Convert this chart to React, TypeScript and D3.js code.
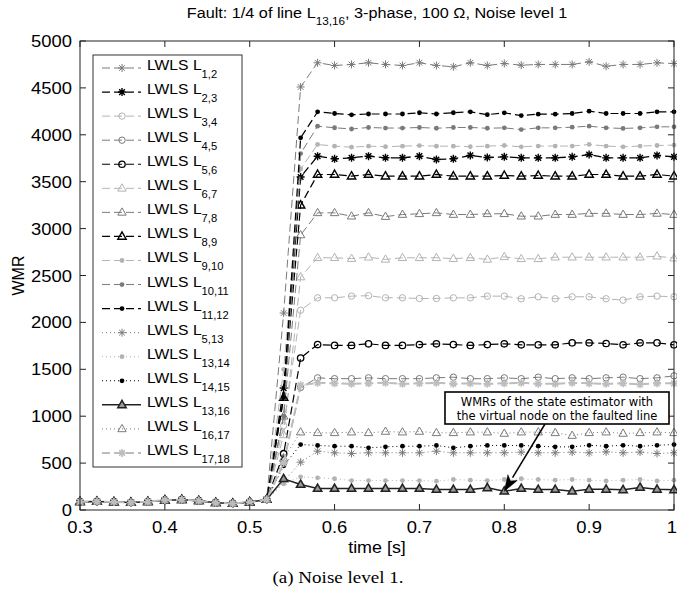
import React from "react";
import * as d3 from "d3";

const times = [0.3, 0.32, 0.34, 0.36, 0.38, 0.4, 0.42, 0.44, 0.46, 0.48, 0.5, 0.52, 0.54, 0.56, 0.58, 0.6, 0.62, 0.64, 0.66, 0.68, 0.7, 0.72, 0.74, 0.76, 0.78, 0.8, 0.82, 0.84, 0.86, 0.88, 0.9, 0.92, 0.94, 0.96, 0.98, 1.0];
const preFault = [88, 90, 86, 80, 88, 105, 110, 98, 78, 70, 84, 112];

const L1_2 = [2100, 4510, 4768, 4739, 4750, 4768, 4750, 4739, 4768, 4739, 4725, 4768, 4739, 4760, 4742, 4750, 4750, 4750, 4778, 4731, 4750, 4750, 4767, 4760];
const L2_3 = [1300, 3550, 3772, 3744, 3755, 3772, 3755, 3755, 3772, 3737, 3744, 3780, 3758, 3765, 3754, 3754, 3754, 3765, 3790, 3754, 3754, 3754, 3780, 3765];
const L3_4 = [900, 2130, 2262, 2262, 2280, 2285, 2262, 2262, 2255, 2255, 2262, 2262, 2280, 2280, 2252, 2273, 2252, 2273, 2273, 2252, 2237, 2273, 2280, 2273];
const L4_5 = [500, 1306, 1409, 1400, 1400, 1409, 1400, 1400, 1400, 1409, 1416, 1400, 1400, 1409, 1400, 1416, 1400, 1409, 1400, 1409, 1416, 1400, 1409, 1430];
const L5_6 = [600, 1620, 1764, 1755, 1755, 1772, 1755, 1755, 1764, 1772, 1764, 1755, 1764, 1772, 1761, 1761, 1761, 1782, 1782, 1775, 1761, 1782, 1782, 1761];
const L6_7 = [800, 2484, 2689, 2689, 2680, 2695, 2672, 2689, 2689, 2689, 2680, 2689, 2672, 2699, 2678, 2678, 2695, 2695, 2695, 2695, 2695, 2695, 2706, 2685];
const L7_8 = [1000, 2932, 3168, 3168, 3132, 3168, 3128, 3150, 3158, 3168, 3150, 3150, 3158, 3158, 3132, 3132, 3150, 3150, 3162, 3162, 3150, 3150, 3162, 3150];
const L8_9 = [1200, 3250, 3577, 3577, 3559, 3577, 3559, 3559, 3559, 3577, 3559, 3559, 3559, 3566, 3559, 3566, 3559, 3559, 3577, 3577, 3559, 3559, 3577, 3559];
const L9_10 = [1500, 3636, 3897, 3879, 3868, 3879, 3873, 3879, 3885, 3879, 3879, 3873, 3879, 3886, 3872, 3880, 3880, 3880, 3897, 3880, 3872, 3880, 3886, 3890];
const L10_11 = [1000, 3800, 4092, 4075, 4062, 4078, 4072, 4072, 4078, 4070, 4078, 4078, 4070, 4074, 4056, 4074, 4074, 4081, 4092, 4074, 4068, 4074, 4085, 4085];
const L11_12 = [1200, 3968, 4245, 4227, 4213, 4222, 4222, 4222, 4235, 4222, 4235, 4245, 4215, 4234, 4205, 4220, 4220, 4227, 4252, 4227, 4227, 4227, 4245, 4245];
const L5_13 = [300, 510, 627, 610, 603, 610, 610, 610, 610, 627, 610, 610, 610, 610, 617, 610, 610, 617, 610, 620, 610, 617, 603, 610];
const L13_14 = [280, 354, 343, 333, 314, 314, 314, 314, 314, 307, 325, 318, 314, 325, 333, 325, 318, 325, 318, 310, 318, 325, 310, 318];
const L14_15 = [470, 698, 688, 680, 680, 663, 673, 680, 680, 688, 663, 680, 688, 688, 688, 680, 673, 673, 690, 680, 690, 680, 690, 698];
const L13_16 = [333, 272, 229, 229, 229, 229, 229, 229, 229, 218, 218, 218, 236, 200, 229, 218, 218, 200, 220, 220, 215, 240, 220, 215];
const L16_17 = [550, 830, 823, 823, 830, 823, 837, 830, 837, 823, 823, 830, 830, 816, 830, 830, 823, 794, 823, 830, 816, 823, 830, 823];
const L17_18 = [500, 1330, 1356, 1350, 1345, 1350, 1356, 1345, 1350, 1356, 1345, 1350, 1345, 1350, 1356, 1345, 1345, 1356, 1350, 1345, 1350, 1340, 1350, 1350];

const seriesNames = ["1,2", "2,3", "3,4", "4,5", "5,6", "6,7", "7,8", "8,9", "9,10", "10,11", "11,12", "5,13", "13,14", "14,15", "13,16", "16,17", "17,18"];
const seriesPost = [L1_2, L2_3, L3_4, L4_5, L5_6, L6_7, L7_8, L8_9, L9_10, L10_11, L11_12, L5_13, L13_14, L14_15, L13_16, L16_17, L17_18];

const xTicks = [0.3, 0.4, 0.5, 0.6, 0.7, 0.8, 0.9, 1.0];
const yTicks = [0, 500, 1000, 1500, 2000, 2500, 3000, 3500, 4000, 4500, 5000];

const GRAY = "#7a7a7a";
const LIGHT = "#b3b3b3";
const BLACK = "#000";
type Style = { color: string; dash: string | null; marker: string; lw: number; mlw: number; fill?: string };
const styles: Style[] = [
  { color: GRAY, dash: "8,4", marker: "star", lw: 1, mlw: 1 },
  { color: BLACK, dash: "8,4", marker: "star", lw: 1.3, mlw: 1.4 },
  { color: LIGHT, dash: "8,4", marker: "circle", lw: 1, mlw: 1 },
  { color: GRAY, dash: "8,4", marker: "circle", lw: 1, mlw: 1 },
  { color: BLACK, dash: "8,4", marker: "circle", lw: 1.2, mlw: 1.3 },
  { color: LIGHT, dash: "8,4", marker: "tri", lw: 1, mlw: 1 },
  { color: GRAY, dash: "8,4", marker: "tri", lw: 1, mlw: 1 },
  { color: BLACK, dash: "8,4", marker: "tri", lw: 1.2, mlw: 1.4 },
  { color: LIGHT, dash: "8,4", marker: "dot", lw: 1, mlw: 1 },
  { color: GRAY, dash: "8,4", marker: "dot", lw: 1, mlw: 1 },
  { color: BLACK, dash: "8,4", marker: "dot", lw: 1.2, mlw: 1 },
  { color: GRAY, dash: "1,3", marker: "star", lw: 1, mlw: 1 },
  { color: LIGHT, dash: "1,3", marker: "dot", lw: 1, mlw: 1 },
  { color: BLACK, dash: "1,3", marker: "dot", lw: 1, mlw: 1 },
  { color: "#222", dash: null, marker: "tri", lw: 1.5, mlw: 1.5, fill: "#9a9a9a" },
  { color: GRAY, dash: "1,3", marker: "tri", lw: 1, mlw: 1 },
  { color: "#bdbdbd", dash: "8,4", marker: "star", lw: 2, mlw: 1.6 },
];

const W = 677;
const H = 591;
const X0 = 80, X1 = 674, Y0 = 510, Y1 = 41;
const FONT = "'Liberation Sans', Arial, Helvetica, sans-serif";

function Marker({ type, x, y, color, sw, fill }: { type: string; x: number; y: number; color: string; sw: number; fill?: string }) {
  if (type === "star") {
    const r = 4;
    const d = r * Math.SQRT1_2;
    return (
      <path
        d={`M${x - r},${y}L${x + r},${y}M${x},${y - r}L${x},${y + r}M${x - d},${y - d}L${x + d},${y + d}M${x - d},${y + d}L${x + d},${y - d}`}
        stroke={color}
        strokeWidth={sw}
        fill="none"
      />
    );
  }
  if (type === "circle") return <circle cx={x} cy={y} r={3.2} stroke={color} strokeWidth={sw} fill="none" />;
  if (type === "dot") return <circle cx={x} cy={y} r={2.4} fill={color} stroke="none" />;
  return (
    <path d={`M${x},${y - 4.5}L${x + 4.2},${y + 2.8}L${x - 4.2},${y + 2.8}Z`} stroke={color} strokeWidth={sw} fill={fill || "none"} />
  );
}

function T({ x, y, size, sx = 1.12, anchor = "start", family = FONT, children, rotate = 0 }: any) {
  return (
    <text
      transform={`translate(${x},${y}) rotate(${rotate}) scale(${sx},1)`}
      fontSize={size}
      fontFamily={family}
      textAnchor={anchor}
      fill="#000"
    >
      {children}
    </text>
  );
}

export default function App() {
  const x = d3.scaleLinear().domain([0.3, 1.0]).range([X0, X1]);
  const y = d3.scaleLinear().domain([0, 5000]).range([Y0, Y1]);
  const line = d3
    .line<[number, number]>()
    .x((d) => x(d[0]))
    .y((d) => y(d[1]));

  const series = seriesPost.map((post) => times.map((t, i) => [t, i < preFault.length ? preFault[i] : post[i - preFault.length]] as [number, number]));

  const legX = 93, legY = 55, legW = 149, legH = 412;
  const legRow0 = 68, legStep = 24.06;

  // annotation
  const tipX = x(0.8), tipY = y(200);
  const boxX = 445, boxY = 392, boxW = 224, boxH = 32;
  const startX = 545, startY = boxY + boxH;
  const dx = startX - tipX, dy = startY - tipY;
  const len = Math.hypot(dx, dy);
  const ux = dx / len, uy = dy / len;
  const px = -uy, py = ux;
  const hl = 16, hw = 5.5;
  const bx = tipX + ux * hl, by = tipY + uy * hl;
  const nx = tipX + ux * (hl * 0.75), ny = tipY + uy * (hl * 0.75);
  const head = `M${tipX},${tipY}L${bx + px * hw},${by + py * hw}L${nx},${ny}L${bx - px * hw},${by - py * hw}Z`;

  return (
    <svg width={W} height={H} style={{ position: "absolute", left: 0, top: 0, background: "#fff" }}>
      <rect x={0} y={0} width={W} height={H} fill="#fff" />
      {/* title */}
      <T x={377} y={18} size={14.5} anchor="middle">
        Fault: 1/4 of line L
        <tspan fontSize={10.5} dy={7}>13,16</tspan>
        <tspan dy={-7}>, 3-phase, 100 Ω, Noise level 1</tspan>
      </T>

      {/* series */}
      {series.map((s, i) => {
        const st = styles[i];
        return (
          <g key={i}>
            <path
              d={line(s) || ""}
              fill="none"
              stroke={st.color}
              strokeWidth={st.lw}
              strokeDasharray={st.dash || undefined}
            />
            {s.map((d, j) => (
              <Marker key={j} type={st.marker} x={x(d[0])} y={y(d[1])} color={st.color} sw={st.mlw} fill={st.fill} />
            ))}
          </g>
        );
      })}

      {/* axes box */}
      <rect x={X0} y={Y1} width={X1 - X0} height={Y0 - Y1} fill="none" stroke="#222" strokeWidth={1} />
      {xTicks.map((t, i) => {
        const last = i === xTicks.length - 1;
        return (
          <g key={"xt" + t}>
            <line x1={x(t)} x2={x(t)} y1={Y0} y2={Y0 - 6} stroke="#222" />
            <line x1={x(t)} x2={x(t)} y1={Y1} y2={Y1 + 6} stroke="#222" />
            <T x={last ? 677 : x(t)} y={533} size={16} sx={1.15} anchor={last ? "end" : "middle"}>
              {d3.format("")(t)}
            </T>
          </g>
        );
      })}
      {yTicks.map((t) => (
        <g key={"yt" + t}>
          <line x1={X0} x2={X0 + 6} y1={y(t)} y2={y(t)} stroke="#222" />
          <line x1={X1} x2={X1 - 6} y1={y(t)} y2={y(t)} stroke="#222" />
          <T x={72} y={y(t) + 6} size={16} sx={1.15} anchor="end">
            {t}
          </T>
        </g>
      ))}

      {/* axis labels */}
      <T x={377} y={553} size={16} sx={1.12} anchor="middle">
        time [s]
      </T>
      <text transform={`translate(24,${(Y0 + Y1) / 2}) rotate(-90)`} fontSize={16} fontFamily={FONT} textAnchor="middle">
        WMR
      </text>

      {/* legend */}
      <rect x={legX} y={legY} width={legW} height={legH} fill="#fff" stroke="#333" strokeWidth={1} />
      {seriesNames.map((n, i) => {
        const st = styles[i];
        const ly = legRow0 + i * legStep;
        return (
          <g key={"lg" + i}>
            <line x1={102} x2={141} y1={ly} y2={ly} stroke={st.color} strokeWidth={st.lw} strokeDasharray={st.dash || undefined} />
            <Marker type={st.marker} x={122} y={ly} color={st.color} sw={st.mlw} fill={st.fill} />
            <T x={147} y={ly + 2} size={14} sx={1.12}>
              LWLS L<tspan fontSize={10} dy={8}>{n}</tspan>
            </T>
          </g>
        );
      })}

      {/* annotation */}
      <line x1={startX} y1={startY} x2={bx} y2={by} stroke="#000" strokeWidth={1.5} />
      <path d={head} fill="#000" stroke="#000" strokeWidth={0.5} />
      <rect x={boxX} y={boxY} width={boxW} height={boxH} fill="#fff" stroke="#000" strokeWidth={1.6} />
      <text x={boxX + boxW / 2} y={boxY + 13.5} fontSize={11.5} fontFamily="'DejaVu Sans', sans-serif" textAnchor="middle">
        WMRs of the state estimator with
      </text>
      <text x={boxX + boxW / 2} y={boxY + 27.5} fontSize={11.5} fontFamily="'DejaVu Sans', sans-serif" textAnchor="middle">
        the virtual node on the faulted line
      </text>

      {/* caption */}
      <text x={338} y={583} fontSize={17} fontFamily="'Liberation Serif', 'Times New Roman', serif" textAnchor="middle" transform={`translate(338,0) scale(1.12,1) translate(-338,0)`}>
        (a) Noise level 1.
      </text>
    </svg>
  );
}
